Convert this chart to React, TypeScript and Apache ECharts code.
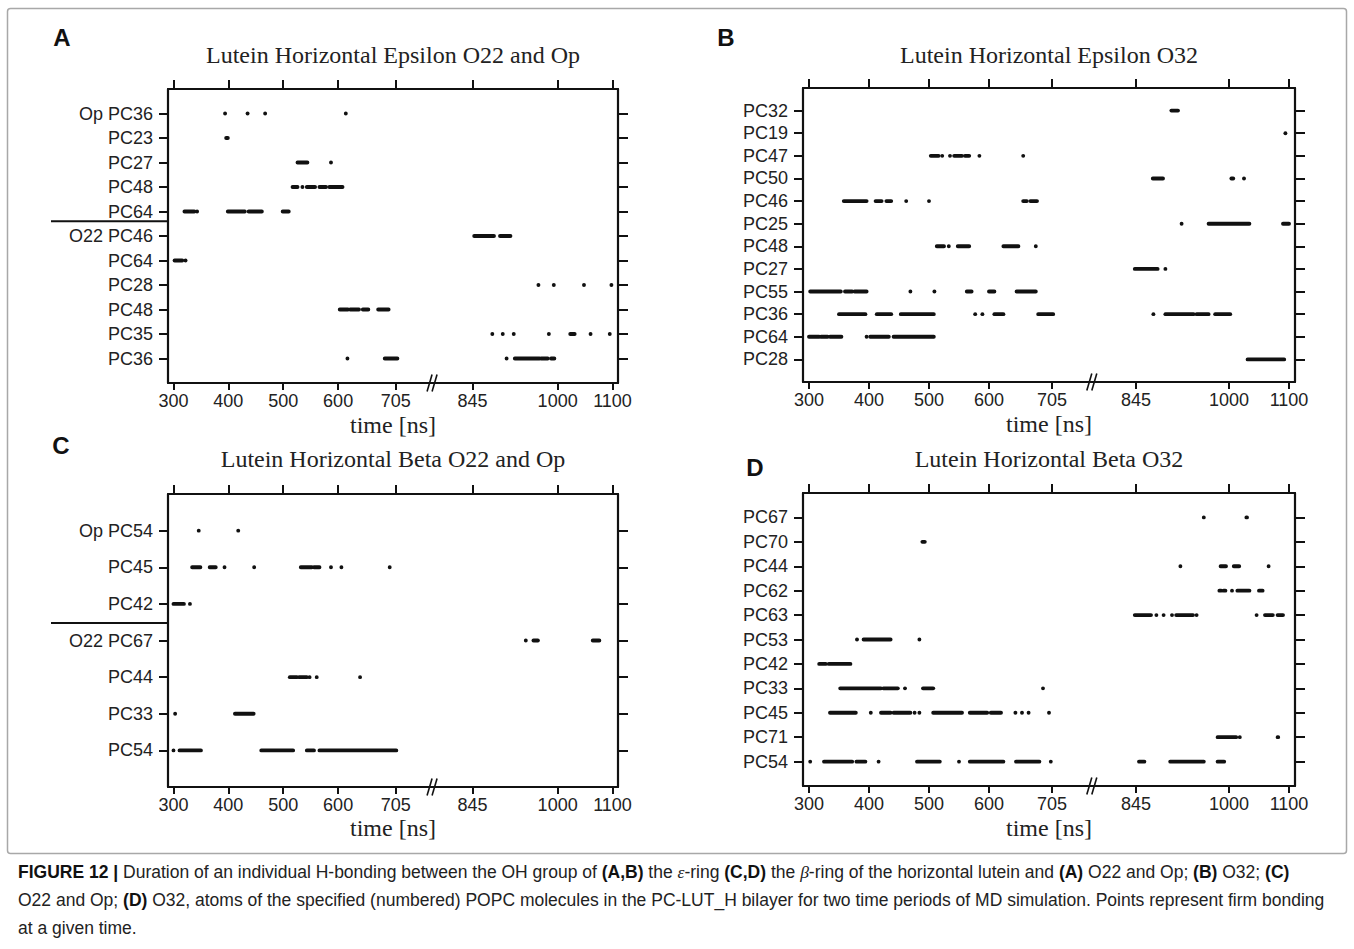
import React, { useEffect, useRef } from "react";
import * as echarts from "echarts";

// ---------- axis data ----------
const X_TICKS = [300, 400, 500, 600, 705, 845, 1000, 1100];
const X_MIN = 290;
const X_MAX = 1110;
const BREAK_AT = 773;
const X_NAME = "time [ns]";

// ---------- Panel A ----------
const A_TITLE = "Lutein Horizontal Epsilon O22 and Op";
const A_ROWS = ["Op PC36", "PC23", "PC27", "PC48", "PC64", "O22 PC46", "PC64", "PC28", "PC48", "PC35", "PC36"];
const A_BONDS = [
  [[394, 394], [435, 435], [467, 467], [614, 614]],
  [[396, 399]],
  [[526, 544], [587, 587]],
  [[517, 526], [535, 535], [543, 558], [566, 578], [584, 608]],
  [[320, 338], [343, 343], [399, 430], [437, 461], [499, 510]],
  [[848, 884], [895, 914]],
  [[302, 316], [322, 322]],
  [[965, 965], [993, 993], [1048, 1048], [1098, 1098]],
  [[603, 618], [622, 638], [645, 655], [673, 692]],
  [[881, 881], [900, 900], [920, 920], [984, 984], [1023, 1031], [1060, 1060], [1095, 1095]],
  [[617, 617], [685, 708], [907, 907], [922, 967], [970, 982], [988, 994]],
];

// ---------- Panel B ----------
const B_TITLE = "Lutein Horizontal Epsilon O32";
const B_ROWS = ["PC32", "PC19", "PC47", "PC50", "PC46", "PC25", "PC48", "PC27", "PC55", "PC36", "PC64", "PC28"];
const B_BONDS = [
  [[904, 915]],
  [[1094, 1094]],
  [[503, 516], [522, 522], [535, 535], [542, 555], [560, 567], [584, 584], [657, 657]],
  [[873, 890], [1004, 1007], [1025, 1025]],
  [[358, 396], [411, 421], [429, 437], [462, 462], [500, 500], [657, 663], [669, 680]],
  [[921, 921], [966, 1034], [1090, 1100]],
  [[513, 525], [533, 533], [548, 567], [624, 649], [678, 678]],
  [[843, 881], [894, 894]],
  [[302, 353], [360, 372], [376, 396], [469, 469], [509, 509], [563, 571], [600, 609], [646, 678]],
  [[350, 394], [413, 437], [453, 508], [577, 577], [589, 589], [609, 624], [682, 707], [874, 874], [894, 941], [946, 966], [977, 1002]],
  [[300, 317], [320, 331], [335, 354], [396, 396], [402, 433], [441, 508]],
  [[1031, 1092]],
];

// ---------- Panel C ----------
const C_TITLE = "Lutein Horizontal Beta O22 and Op";
const C_ROWS = ["Op PC54", "PC45", "PC42", "O22 PC67", "PC44", "PC33", "PC54"];
const C_BONDS = [
  [[346, 346], [418, 418]],
  [[334, 349], [366, 377], [393, 393], [447, 447], [532, 552], [556, 566], [587, 587], [606, 606], [694, 694]],
  [[300, 319], [330, 330]],
  [[942, 942], [956, 964], [1064, 1076]],
  [[512, 525], [529, 543], [548, 548], [561, 561], [640, 640]],
  [[303, 303], [412, 446]],
  [[300, 300], [311, 350], [460, 518], [543, 556], [566, 706]],
];

// ---------- Panel D ----------
const D_TITLE = "Lutein Horizontal Beta O32";
const D_ROWS = ["PC67", "PC70", "PC44", "PC62", "PC63", "PC53", "PC42", "PC33", "PC45", "PC71", "PC54"];
const D_BONDS = [
  [[958, 958], [1029, 1030]],
  [[489, 493]],
  [[919, 919], [986, 995], [1008, 1017], [1066, 1066]],
  [[984, 987], [991, 994], [1005, 1005], [1014, 1034], [1050, 1056]],
  [[843, 870], [879, 879], [891, 891], [905, 905], [912, 940], [946, 946], [1046, 1046], [1060, 1073], [1081, 1090]],
  [[380, 380], [391, 436], [484, 484]],
  [[317, 328], [333, 369]],
  [[352, 420], [424, 448], [460, 460], [490, 507], [690, 690]],
  [[335, 378], [403, 403], [420, 436], [441, 469], [476, 476], [484, 484], [507, 555], [568, 597], [603, 620], [644, 644], [655, 655], [666, 666], [700, 700]],
  [[981, 1012], [1018, 1018], [1081, 1082]],
  [[302, 302], [325, 372], [379, 394], [416, 416], [480, 518], [550, 550], [568, 624], [645, 684], [703, 703], [850, 859], [902, 958], [981, 992]],
];

// ---------- layout ----------
const PANELS = [
  { rows: A_ROWS, bonds: A_BONDS, title: A_TITLE, letter: "A", lx: 62, ly: 37, left: 168, top: 89, width: 450, height: 294, titleY: 55, nameY: 425, sep: 6.6 },
  { rows: B_ROWS, bonds: B_BONDS, title: B_TITLE, letter: "B", lx: 726, ly: 37, left: 803, top: 88, width: 492, height: 294, titleY: 55, nameY: 424, sep: null },
  { rows: C_ROWS, bonds: C_BONDS, title: C_TITLE, letter: "C", lx: 61, ly: 445, left: 168, top: 494, width: 450, height: 293, titleY: 459, nameY: 828, sep: 4.48 },
  { rows: D_ROWS, bonds: D_BONDS, title: D_TITLE, letter: "D", lx: 755, ly: 467, left: 803, top: 493, width: 492, height: 293, titleY: 459, nameY: 828, sep: null },
];

const INK = "#111";
const SANS = "'Liberation Sans', Arial, sans-serif";
const SERIF = "'Liberation Serif', 'Times New Roman', serif";

export default function App() {
  const ref = useRef<HTMLDivElement>(null);

  useEffect(() => {
    const chart = echarts.init(ref.current as HTMLDivElement, null, { renderer: "svg" });

    const grid: any[] = [];
    const xAxis: any[] = [];
    const yAxis: any[] = [];
    const series: any[] = [];

    PANELS.forEach((p, i) => {
      const n = p.rows.length;
      const rowVals = p.rows.map((_, k) => n - k);
      grid.push({ left: p.left, top: p.top, width: p.width, height: p.height, containLabel: false });
      const lineStyle = { color: INK, width: 2.2 };
      const tickStyle = { color: INK, width: 2 };
      xAxis.push({
        type: "value", gridIndex: i, min: X_MIN, max: X_MAX, position: "bottom",
        axisLine: { show: true, onZero: false, lineStyle },
        axisTick: { show: true, inside: false, length: 7, customValues: X_TICKS, lineStyle: tickStyle },
        axisLabel: {
          show: true, customValues: X_TICKS, margin: 9, fontSize: 18, fontFamily: SANS, color: "#222",
          formatter: (v: number) => String(v),
        },
        splitLine: { show: false },
      });
      xAxis.push({
        type: "value", gridIndex: i, min: X_MIN, max: X_MAX, position: "top",
        axisLine: { show: true, onZero: false, lineStyle },
        axisTick: { show: true, inside: false, length: 9, customValues: X_TICKS, lineStyle: tickStyle },
        axisLabel: { show: false },
        splitLine: { show: false },
      });
      yAxis.push({
        type: "value", gridIndex: i, min: 0, max: n + 1, position: "left",
        axisLine: { show: true, onZero: false, lineStyle },
        axisTick: { show: true, inside: false, length: 9, customValues: rowVals, lineStyle: tickStyle },
        axisLabel: {
          show: true, customValues: rowVals, margin: 15, fontSize: 18, fontFamily: SANS, color: "#222",
          formatter: (v: number) => p.rows[n - Math.round(v)] ?? "",
        },
        splitLine: { show: false },
      });
      yAxis.push({
        type: "value", gridIndex: i, min: 0, max: n + 1, position: "right",
        axisLine: { show: true, onZero: false, lineStyle },
        axisTick: { show: true, inside: false, length: 10, customValues: rowVals, lineStyle: tickStyle },
        axisLabel: { show: false },
        splitLine: { show: false },
      });
      const data: number[][] = [];
      p.bonds.forEach((row, k) => {
        row.forEach(([s, e]) => data.push([n - k, s, e]));
      });
      series.push({
        type: "custom",
        xAxisIndex: 2 * i,
        yAxisIndex: 2 * i,
        encode: { x: [1, 2], y: 0 },
        data,
        renderItem: (_params: any, api: any) => {
          const r = api.value(0);
          const p1 = api.coord([api.value(1), r]);
          const p2 = api.coord([api.value(2), r]);
          const h = 3.9;
          return {
            type: "rect",
            shape: { x: p1[0] - h / 2, y: p1[1] - h / 2, width: p2[0] - p1[0] + h, height: h, r: h / 2 },
            style: { fill: INK },
          };
        },
      });
    });

    chart.setOption({ animation: false, backgroundColor: "#fff", grid, xAxis, yAxis, series });

    const graphic: any[] = [];
    // frame
    graphic.push({
      type: "rect", shape: { x: 7.5, y: 8.5, width: 1339, height: 845, r: 3 },
      style: { fill: "none", stroke: "#a8a8a8", lineWidth: 1.5 }, silent: true,
    });

    PANELS.forEach((p, i) => {
      const xc = chart.convertToPixel({ xAxisIndex: 2 * i }, (X_MIN + X_MAX) / 2) as number;
      const xl = chart.convertToPixel({ xAxisIndex: 2 * i }, X_MIN) as number;
      const xb = chart.convertToPixel({ xAxisIndex: 2 * i }, BREAK_AT) as number;
      const yb = chart.convertToPixel({ yAxisIndex: 2 * i }, 0) as number;
      graphic.push({
        type: "text", x: xc, y: p.titleY,
        style: { text: p.title, fontFamily: SERIF, fontSize: 24, fill: "#222", align: "center", verticalAlign: "middle" },
      });
      graphic.push({
        type: "text", x: xc, y: p.nameY,
        style: { text: X_NAME, fontFamily: SERIF, fontSize: 24, fill: "#222", align: "center", verticalAlign: "middle" },
      });
      graphic.push({
        type: "text", x: p.lx, y: p.ly,
        style: { text: p.letter, fontFamily: SANS, fontWeight: "bold", fontSize: 24, fill: "#111", align: "center", verticalAlign: "middle" },
      });
      for (let k = 0; k < 2; k++) {
        graphic.push({
          type: "line",
          shape: { x1: xb - 6 + k * 5, y1: yb + 8.5, x2: xb - 1 + k * 5, y2: yb - 8.5 },
          style: { stroke: INK, lineWidth: 1.6 },
        });
      }
      if (p.sep !== null) {
        const ys = chart.convertToPixel({ yAxisIndex: 2 * i }, p.sep as number) as number;
        graphic.push({
          type: "line", shape: { x1: 51, y1: ys, x2: xl, y2: ys },
          style: { stroke: INK, lineWidth: 2 },
        });
      }
    });

    const CAP_SIZE = 17.5;
    const capFont = { fontFamily: SANS, fontSize: CAP_SIZE, fill: "#222" };
    const rich = {
      b: { fontFamily: SANS, fontSize: CAP_SIZE, fontWeight: "bold", fill: "#111" },
      i: { fontFamily: SERIF, fontSize: CAP_SIZE, fontStyle: "italic", fill: "#222" },
    };
    const CAPTION = [
      "{b|FIGURE 12 |} Duration of an individual H-bonding between the OH group of {b|(A,B)} the {i|ε}-ring {b|(C,D)} the {i|β}-ring of the horizontal lutein and {b|(A)} O22 and Op; {b|(B)} O32; {b|(C)}",
      "O22 and Op; {b|(D)} O32, atoms of the specified (numbered) POPC molecules in the PC-LUT_H bilayer for two time periods of MD simulation. Points represent firm bonding",
      "at a given time.",
    ];
    const capY = [872, 900, 928];
    CAPTION.forEach((t, k) => {
      graphic.push({
        type: "text", x: 18, y: capY[k],
        style: { text: t, rich, ...capFont, align: "left", verticalAlign: "middle" },
      });
    });

    chart.setOption({ graphic });

    return () => chart.dispose();
  }, []);

  return (
    <div
      ref={ref}
      style={{ position: "absolute", left: 0, top: 0, width: 1354, height: 949, background: "#fff" }}
    />
  );
}
